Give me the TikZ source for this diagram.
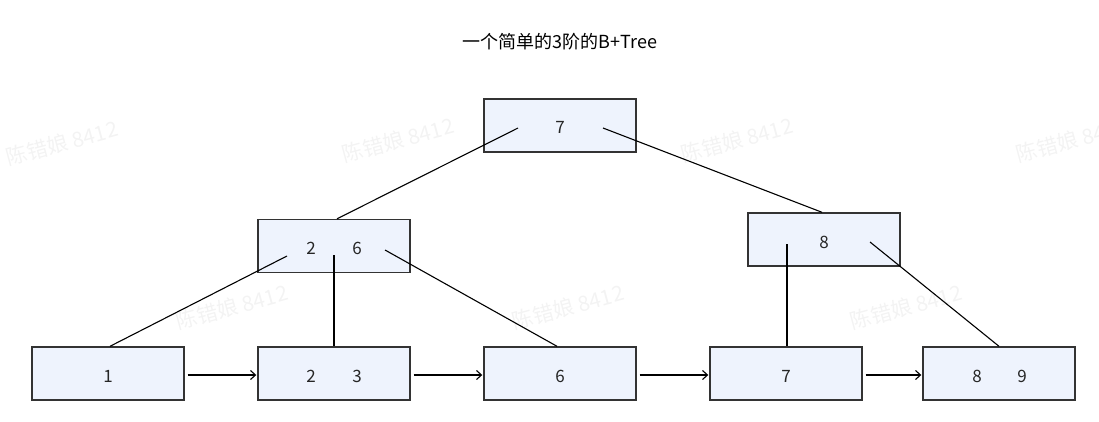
\documentclass[tikz,border=0pt]{standalone}
\usepackage{fontspec}
\setmainfont{Noto Sans CJK SC}
\usetikzlibrary{arrows.meta,calc}
\definecolor{boxfill}{HTML}{EEF3FD}
\definecolor{boxline}{HTML}{333333}
\definecolor{wm}{HTML}{F3F3F3}
\begin{document}
\begin{tikzpicture}[x=1pt,y=-1pt,
  keybox/.style={draw=boxline,line width=1.4pt,fill=boxfill,minimum width=152pt,minimum height=53pt,inner sep=0pt},
  keytext/.style={font=\fontsize{17}{19}\selectfont,text=black!85},
  edge/.style={draw=black,line width=1.1pt},
  link/.style={draw=black,line width=1.1pt,-{Straight Barb[length=5pt,width=9pt]}},
  wmtext/.style={font=\fontsize{21}{23}\selectfont,text=wm,rotate=15}]
\useasboundingbox (0,0) rectangle (1099,422);

% faint watermarks
\begin{scope}
\clip (0,0) rectangle (1099,422);
\foreach \x/\y in {62/143,398/140,737/140,1072/140,232/307,568/307,906/307}
  \node[wmtext] at (\x,\y) {陈错娘 8412};
\end{scope}

% title
\node[font=\fontsize{18}{20}\selectfont] (title) at (560,42) {一个简单的3阶的B+Tree};

% internal nodes
\node[keybox] (root) at (560,125.5) {};
\node[keybox] (lm) at (334,246) {};
\node[keybox] (rm) at (824,239.5) {};

% leaves
\node[keybox] (l1) at (108,373.5) {};
\node[keybox] (l2) at (334,373.5) {};
\node[keybox] (l3) at (560,373.5) {};
\node[keybox] (l4) at (786,373.5) {};
\node[keybox] (l5) at (999,373.5) {};

% keys
\node[keytext] at (560,127) {7};
\node[keytext] at (311,248) {2};
\node[keytext] at (357,248) {6};
\node[keytext] at (824,242) {8};
\node[keytext] at (108,376) {1};
\node[keytext] at (311,376) {2};
\node[keytext] at (357,376) {3};
\node[keytext] at (560,376) {6};
\node[keytext] at (786,376) {7};
\node[keytext] at (977,376) {8};
\node[keytext] at (1022,376) {9};

% child pointers start inside the parent boxes
\coordinate (r1) at ($(root.center)+(-42,2.5)$);
\coordinate (r2) at ($(root.center)+(43,2.5)$);
\coordinate (m1) at ($(lm.center)+(-47,10)$);
\coordinate (m2) at ($(lm.center)+(0,9)$);
\coordinate (m3) at ($(lm.center)+(51,4)$);
\coordinate (n1) at ($(rm.center)+(-37,4.5)$);
\coordinate (n2) at ($(rm.center)+(46,2.5)$);

\draw[edge] (r1) -- ($(lm.north)+(3,0)$);
\draw[edge] (r2) -- ($(rm.north)+(-2,0)$);
\draw[edge] (m1) -- ($(l1.north)+(2,0)$);
\draw[edge] (m2) -- (l2.north);
\draw[edge] (m3) -- ($(l3.north)+(-3,0)$);
\draw[edge] (n1) -- ($(l4.north)+(1,0)$);
\draw[edge] (n2) -- (l5.north);

% leaf chain
\draw[link] ($(l1.east)+(3,1.5)$) -- ($(l2.west)+(-1,1.5)$);
\draw[link] ($(l2.east)+(3,1.5)$) -- ($(l3.west)+(-1,1.5)$);
\draw[link] ($(l3.east)+(3,1.5)$) -- ($(l4.west)+(-1,1.5)$);
\draw[link] ($(l4.east)+(3,1.5)$) -- ($(l5.west)+(-1,1.5)$);
\end{tikzpicture}
\end{document}
